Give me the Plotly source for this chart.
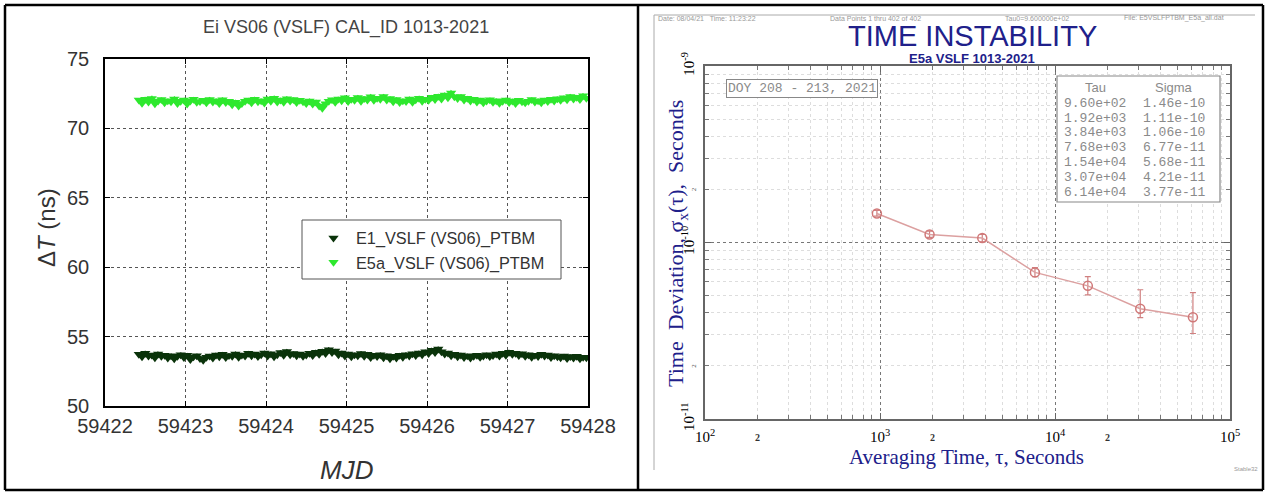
import math
import plotly.graph_objects as go

W, H = 1268, 494

# ---------------- left panel: calibration time series ----------------
MJD_START = 59422.42
MJD_STEP = 0.04

e1_dt = [
    53.72, 53.55, 53.80, 53.60, 53.68, 53.48, 53.75, 53.58, 53.66, 53.45,
    53.62, 53.40, 53.58, 53.70, 53.50, 53.65, 53.35, 53.55, 53.62, 53.42,
    53.30, 53.52, 53.60, 53.45, 53.68, 53.55, 53.72, 53.50, 53.64, 53.58,
    53.75, 53.52, 53.68, 53.60, 53.80, 53.62, 53.74, 53.56, 53.70, 53.82,
    53.60, 53.76, 53.55, 53.70, 53.85, 53.66, 53.92, 53.70, 53.78, 53.62,
    53.74, 53.58, 53.68, 53.80, 53.64, 53.88, 53.72, 53.95, 53.78, 54.05,
    53.86, 53.96, 53.70, 53.82, 53.60, 53.75, 53.55, 53.70, 53.62, 53.78,
    53.58, 53.72, 53.50, 53.66, 53.56, 53.70, 53.48, 53.62, 53.40, 53.58,
    53.45, 53.66, 53.52, 53.70, 53.60, 53.76, 53.64, 53.82, 53.70, 53.90,
    53.78, 54.02, 53.85, 54.10, 53.90, 53.75, 53.82, 53.62, 53.72, 53.55,
    53.68, 53.50, 53.62, 53.46, 53.58, 53.66, 53.52, 53.60, 53.70, 53.56,
    53.64, 53.74, 53.60, 53.80, 53.66, 53.88, 53.72, 53.80, 53.64, 53.76,
    53.58, 53.70, 53.52, 53.66, 53.56, 53.72, 53.60, 53.68, 53.50, 53.62,
    53.55, 53.48, 53.60, 53.42, 53.56, 53.46, 53.58, 53.40, 53.52, 53.48,
]

e5a_dt = [
    72.05, 71.82, 72.10, 71.90, 72.15, 71.78, 71.98, 72.08, 71.85, 72.00,
    71.92, 72.12, 71.80, 71.95, 72.05, 71.76, 71.98, 72.10, 71.88, 71.94,
    72.02, 71.84, 72.08, 71.90, 71.99, 71.80, 72.06, 71.86, 71.95, 71.70,
    71.88, 71.62, 71.80, 71.96, 72.04, 71.85, 72.10, 71.92, 72.00, 71.83,
    72.12, 71.96, 72.18, 71.90, 72.05, 71.88, 72.14, 71.98, 72.08, 71.86,
    72.02, 71.92, 71.80, 71.98, 71.75, 71.90, 71.62, 71.45, 71.78, 71.96,
    72.06, 71.88, 72.12, 72.00, 72.20, 71.94, 72.10, 72.02, 72.22, 71.96,
    72.16, 72.05, 72.28, 72.02, 72.18, 72.10, 72.30, 72.04, 72.15, 71.92,
    72.08, 71.86, 72.00, 71.94, 72.12, 71.88, 72.06, 72.18, 71.96, 72.10,
    72.02, 72.24, 72.08, 72.32, 72.12, 72.40, 72.20, 72.55, 72.28, 72.15,
    72.30, 72.05, 72.18, 71.98, 72.10, 71.90, 72.04, 71.85, 71.98, 72.06,
    71.88, 72.00, 71.82, 71.95, 72.05, 71.86, 71.98, 71.80, 72.02, 71.92,
    71.84, 71.96, 72.08, 71.90, 72.00, 71.85, 72.04, 71.94, 72.10, 71.98,
    72.14, 72.02, 72.20, 72.06, 72.30, 72.12, 72.25, 72.08, 72.35, 72.18,
]

mjd = [MJD_START + i * MJD_STEP for i in range(len(e1_dt))]

# ---------------- right panel: time deviation ----------------
tau = [960, 1920, 3840, 7680, 15400, 30700, 61400]
sigma = [1.46e-10, 1.11e-10, 1.06e-10, 6.77e-11, 5.68e-11, 4.21e-11, 3.77e-11]
sigma_hi = [1.52e-10, 1.16e-10, 1.11e-10, 7.20e-11, 6.40e-11, 5.40e-11, 5.20e-11]
sigma_lo = [1.41e-10, 1.07e-10, 1.01e-10, 6.40e-11, 5.05e-11, 3.75e-11, 3.05e-11]

err_plus = [h - s for h, s in zip(sigma_hi, sigma)]
err_minus = [s - l for s, l in zip(sigma, sigma_lo)]


def px(x):
    return x / W


def py(y):
    return 1 - y / H


SANS = "Liberation Sans, Arial, sans-serif"
SERIF = "Liberation Serif, Times New Roman, serif"
MONO = "Liberation Mono, Courier New, monospace"
NAVY = "#20208a"
E1_COLOR = "#0a330a"
E5A_COLOR = "#2ee82e"

fig = go.Figure()

# dense sample traces: a connecting line fills the band between markers
for vals, color in ((e1_dt, E1_COLOR), (e5a_dt, E5A_COLOR)):
    fig.add_trace(go.Scatter(
        x=mjd, y=vals, mode="lines", showlegend=False, hoverinfo="skip",
        line=dict(color=color, width=4), xaxis="x", yaxis="y",
    ))
fig.add_trace(go.Scatter(
    x=mjd, y=e1_dt, mode="markers", name="E1_VSLF (VS06)_PTBM",
    marker=dict(symbol="triangle-down", size=9, color=E1_COLOR),
    xaxis="x", yaxis="y",
))
fig.add_trace(go.Scatter(
    x=mjd, y=e5a_dt, mode="markers", name="E5a_VSLF (VS06)_PTBM",
    marker=dict(symbol="triangle-down", size=9, color=E5A_COLOR),
    xaxis="x", yaxis="y",
))

fig.add_trace(go.Scatter(
    x=tau, y=sigma, mode="lines+markers", showlegend=False,
    line=dict(color="#dca0a0", width=1.5),
    marker=dict(symbol="circle-open", size=9, color="#d07878", line=dict(width=1.5)),
    error_y=dict(type="data", symmetric=False, array=err_plus, arrayminus=err_minus,
                 color="#d08080", thickness=1.2, width=3),
    xaxis="x2", yaxis="y2",
))

left_axis_common = dict(
    showline=True, linecolor="black", linewidth=1.5, mirror="ticks",
    ticks="inside", ticklen=5, tickcolor="black",
    showgrid=True, gridcolor="#555555", griddash="dot", gridwidth=1,
    zeroline=False, automargin=False,
    tickfont=dict(family=SANS, size=20, color="#333333"),
)

log_grid_common = dict(
    type="log", showline=True, linecolor="#666666", linewidth=2, mirror="ticks",
    ticks="inside", ticklen=6, tickcolor="#666666",
    showgrid=True, gridcolor="#777777", griddash="dot", gridwidth=1,
    zeroline=False, automargin=False,
    tickfont=dict(family=SERIF, size=15, color="black"),
)

x_minor = [m * d for d in (100, 1000, 10000) for m in range(2, 10)]
y_minor = [m * d for d in (1e-11, 1e-10) for m in range(2, 10)]

fig.update_layout(
    width=W, height=H, autosize=False,
    margin=dict(l=0, r=0, t=0, b=0, pad=0, autoexpand=False),
    paper_bgcolor="white", plot_bgcolor="white",
    showlegend=True,
    legend=dict(
        x=px(303), y=py(221), xanchor="left", yanchor="top",
        bgcolor="rgba(0,0,0,0)", borderwidth=0,
        font=dict(family=SANS, size=16.3, color="#333333"),
        indentation=8, itemwidth=35,
    ),
    xaxis=dict(
        domain=[px(105), px(588)], range=[59422, 59428], tick0=59422, dtick=1,
        tickformat="d", anchor="y", ticklabelstandoff=1, **left_axis_common,
    ),
    yaxis=dict(
        domain=[py(406), py(59)], range=[50, 75], tick0=50, dtick=5,
        anchor="x", ticklabelstandoff=10, **left_axis_common,
    ),
    xaxis2=dict(
        domain=[px(705), px(1230)], range=[2, 5], anchor="y2",
        tickvals=[100, 1000, 10000, 100000],
        ticktext=["10<sup>2</sup>", "10<sup>3</sup>", "10<sup>4</sup>", "10<sup>5</sup>"],
        ticklabelstandoff=3,
        minor=dict(tickvals=x_minor, showgrid=True, gridcolor="#dddddd",
                   ticks="inside", ticklen=4, tickcolor="#777777"),
        **log_grid_common,
    ),
    yaxis2=dict(
        domain=[py(419), py(66)], range=[-11, -9], anchor="x2",
        tickvals=[1e-11, 1e-10, 1e-9],
        ticktext=["10<sup>-11</sup>", "10<sup>-10</sup>", "10<sup>-9</sup>"],
        tickangle=-90, ticklabelstandoff=3,
        minor=dict(tickvals=y_minor, showgrid=True, gridcolor="#dddddd",
                   ticks="inside", ticklen=4, tickcolor="#777777"),
        **log_grid_common,
    ),
)

ann = []

# left panel texts
ann.append(dict(text="Ei VS06 (VSLF) CAL_ID 1013-2021", x=px(346), y=py(28),
                font=dict(family=SANS, size=18, color="#444444")))
ann.append(dict(text="Δ<i>T</i> (ns)", x=px(46), y=py(228), textangle=-90,
                font=dict(family=SANS, size=24, color="#333333")))
ann.append(dict(text="<i>MJD</i>", x=px(346), y=py(470),
                font=dict(family=SANS, size=26, color="#333333")))

# right panel header strip
header_bits = [
    ("Date: 08/04/21   Time: 11:23:22", 656),
    ("Data Points 1 thru 402 of 402", 828),
    ("Tau0=9.600000e+02", 1003),
    ("File: E5VSLFPTBM_E5a_all.dat", 1122),
]
for txt, x0 in header_bits:
    ann.append(dict(text=txt, x=px(x0), y=py(18), xanchor="left",
                    font=dict(family=SANS, size=7, color="#999999")))

ann.append(dict(text="TIME INSTABILITY", x=px(972), y=py(36),
                font=dict(family=SANS, size=29, color=NAVY)))
ann.append(dict(text="<b>E5a VSLF 1013-2021</b>", x=px(972), y=py(58),
                font=dict(family=SANS, size=13, color=NAVY)))
ann.append(dict(text="Time  Deviation, σ<sub>x</sub>(τ),  Seconds", x=px(677), y=py(244),
                textangle=-90, font=dict(family=SERIF, size=22, color=NAVY)))
ann.append(dict(text="Averaging Time, τ, Seconds", x=px(966), y=py(457),
                font=dict(family=SERIF, size=21, color=NAVY)))
ann.append(dict(text="Stable32", x=px(1246), y=py(469),
                font=dict(family=SANS, size=6, color="#999999")))

# minor "2" tick labels
for v in (200, 2000, 20000):
    ann.append(dict(text="<b>2</b>", x=math.log10(v), xref="x2", y=py(437), yref="paper",
                    font=dict(family=SERIF, size=10, color="#333333")))
for v in (2e-10, 2e-11):
    ann.append(dict(text="2", x=px(694), xref="paper", y=math.log10(v), yref="y2",
                    textangle=-90, font=dict(family=SERIF, size=7, color="#555555")))

# DOY label
ann.append(dict(text="DOY 208 - 213, 2021", x=px(726), y=py(89), xanchor="left",
                bordercolor="#888888", borderwidth=1, borderpad=1, bgcolor="white",
                font=dict(family=MONO, size=13, color="#8a8a8a")))

# tau / sigma table
row_y0, row_dy = 103, 15
ann.append(dict(text="Tau", x=px(1095), y=py(87), font=dict(family=SANS, size=13, color="#8a8a8a")))
ann.append(dict(text="Sigma", x=px(1174), y=py(87), font=dict(family=SANS, size=13, color="#8a8a8a")))
for i, (t, s) in enumerate(zip(tau, sigma)):
    yy = py(row_y0 + i * row_dy)
    ann.append(dict(text=f"{t:.2e}", x=px(1095), y=yy, font=dict(family=MONO, size=13, color="#8a8a8a")))
    ann.append(dict(text=f"{s:.2e}", x=px(1174), y=yy, font=dict(family=MONO, size=13, color="#8a8a8a")))

for a in ann:
    a.setdefault("xref", "paper")
    a.setdefault("yref", "paper")
    a.setdefault("showarrow", False)
    a.setdefault("xanchor", "center")
    a.setdefault("yanchor", "middle")
fig.update_layout(annotations=ann)

shapes = []
# table frame around both panels
for x0, y0, x1, y1 in [(5, 5, 1263, 5), (5, 490, 1263, 490), (5, 5, 5, 490),
                       (638, 5, 638, 490), (1263, 5, 1263, 490)]:
    shapes.append(dict(type="line", xref="paper", yref="paper",
                       x0=px(x0), y0=py(y0), x1=px(x1), y1=py(y1),
                       line=dict(color="black", width=2.5)))
# thin frame of the instability plot page
for x0, y0, x1, y1 in [(654, 15, 1255, 15), (654, 15, 654, 470)]:
    shapes.append(dict(type="line", xref="paper", yref="paper",
                       x0=px(x0), y0=py(y0), x1=px(x1), y1=py(y1),
                       line=dict(color="#aaaaaa", width=1)))
# legend box of the left panel (opaque, hides the grid behind the legend)
shapes.append(dict(type="rect", xref="paper", yref="paper",
                   x0=px(302), y0=py(279), x1=px(561), y1=py(220),
                   line=dict(color="#555555", width=1), fillcolor="white", layer="above"))
# tau/sigma table box
shapes.append(dict(type="rect", xref="paper", yref="paper",
                   x0=px(1057), y0=py(202), x1=px(1220), y1=py(76),
                   line=dict(color="#888888", width=1.2), fillcolor="white", layer="above"))
fig.update_layout(shapes=shapes)

fig.write_html("out.html")
